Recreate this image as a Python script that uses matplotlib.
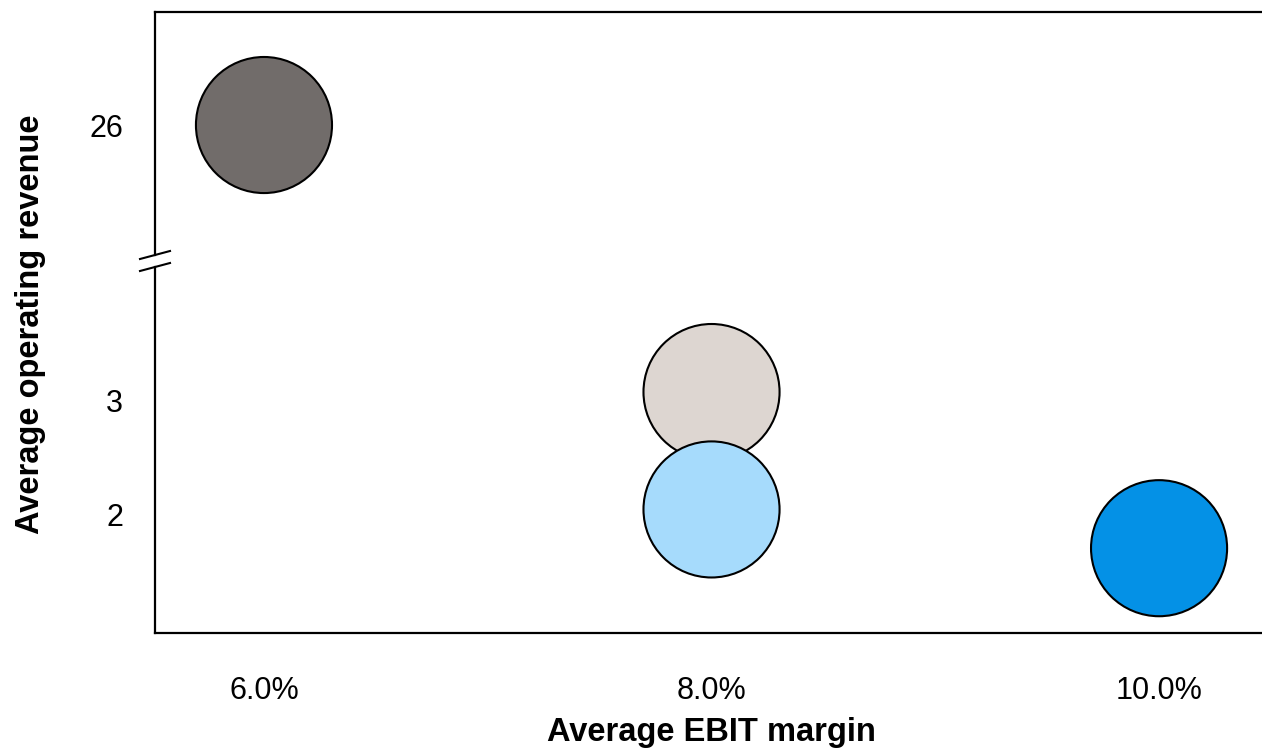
import matplotlib
matplotlib.use("Agg")
import matplotlib.pyplot as plt

# average EBIT margin (%) vs average operating revenue, one bubble per group
ebit_margin = [6.0, 8.0, 8.0, 10.0]
op_revenue = [26.0, 3.07, 2.04, 1.70]
bubble_colors = ["#716c6a", "#ddd6d1", "#a6dbfc", "#0491e6"]

x_ticks = [6.0, 8.0, 10.0]
x_tick_labels = ["6.0%", "8.0%", "10.0%"]
upper_ticks = [26]
lower_ticks = [2, 3]

plt.rcParams["font.family"] = ["Liberation Sans", "DejaVu Sans"]

W, H = 1262, 755
fig = plt.figure(figsize=(W / 100, H / 100), dpi=100)

left = 155 / W
width = 1 - left
ax_top = fig.add_axes([left, 1 - 255 / H, width, (255 - 12) / H])
ax_bot = fig.add_axes([left, 1 - 633 / H, width, (633 - 267) / H])

for ax in (ax_top, ax_bot):
    ax.scatter(ebit_margin, op_revenue, s=9600, c=bubble_colors,
               edgecolors="black", linewidths=1.5, zorder=3)
    ax.set_xlim(5.513, 10.46)
    ax.spines["right"].set_visible(False)
    for side in ("left", "top", "bottom"):
        ax.spines[side].set_linewidth(1.6)
    ax.tick_params(length=0, labelsize=22, pad=23)

ax_top.set_ylim(24.85, 27.0)
ax_top.set_yticks(upper_ticks)
ax_top.spines["bottom"].set_visible(False)
ax_top.set_xticks([])

ax_bot.set_ylim(0.956, 4.167)
ax_bot.set_yticks(lower_ticks)
ax_bot.spines["top"].set_visible(False)
ax_bot.set_xticks(x_ticks)
ax_bot.set_xticklabels(x_tick_labels)
ax_bot.tick_params(axis="x", pad=31)

# axis break marks on the left spine
for ax, yb in ((ax_top, 0.0), (ax_bot, 1.0)):
    bb = ax.get_position()
    dx = 15 / (bb.width * W)
    dy = 4 / (bb.height * H)
    ax.plot([-dx, dx], [yb - dy, yb + dy], transform=ax.transAxes,
            color="black", lw=1.5, clip_on=False)

ax_bot.set_xlabel("Average EBIT margin", fontsize=23.5, fontweight="bold")
ax_bot.xaxis.set_label_coords((711.5 - 155) / 1107, -(733 - 633) / 366)
ax_bot.xaxis.label.set_va("center")

fig.text(31 / W, 1 - 324 / H, "Average operating revenue", rotation=90,
         ha="center", va="center", fontsize=23.5, fontweight="bold")

fig.savefig("out.png", dpi=100)
